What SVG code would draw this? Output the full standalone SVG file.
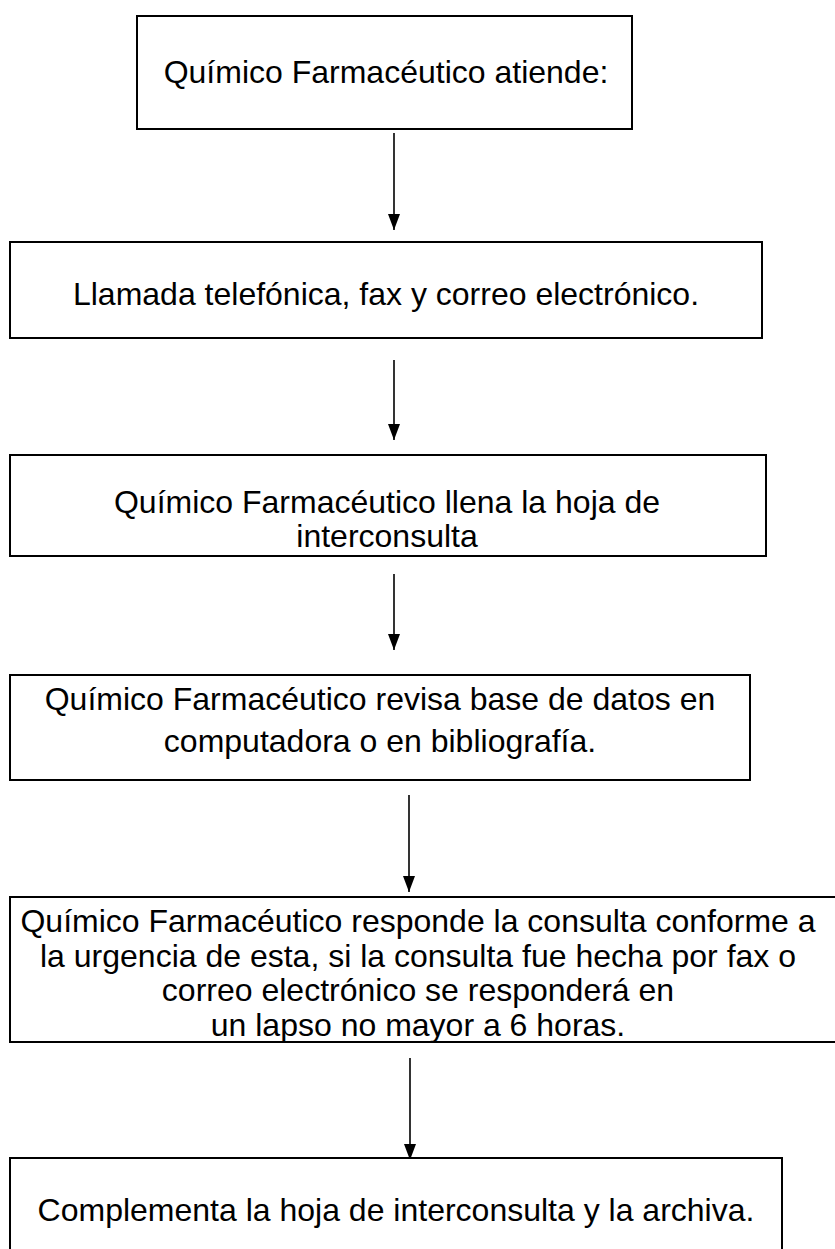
<svg xmlns="http://www.w3.org/2000/svg" width="835" height="1249" viewBox="0 0 835 1249">
<defs>
<marker id="ah" markerWidth="16" markerHeight="12" refX="16" refY="6" orient="auto" markerUnits="userSpaceOnUse" viewBox="0 0 16 12">
<path d="M0,0 L16,6 L0,12 Z" fill="#000"/>
</marker>
<style>
.box{fill:#fff;stroke:#000;stroke-width:2}
.t{font-family:"Liberation Sans",Arial,sans-serif;font-size:32px;fill:#000;text-anchor:middle}
.c{stroke:#000;stroke-width:1.6;fill:none}
</style>
</defs>
<rect width="835" height="1249" fill="#fff"/>
<g id="connectors">
<line class="c" x1="394" y1="133" x2="394" y2="230" marker-end="url(#ah)"/>
<line class="c" x1="394" y1="360" x2="394" y2="440" marker-end="url(#ah)"/>
<line class="c" x1="394" y1="574" x2="394" y2="650" marker-end="url(#ah)"/>
<line class="c" x1="409" y1="795" x2="409" y2="892" marker-end="url(#ah)"/>
<line class="c" x1="410" y1="1058" x2="410" y2="1160" marker-end="url(#ah)"/>
</g>
<g id="n1">
<rect class="box" x="137" y="16" width="495" height="113"/>
<text class="t" x="386" y="83">Químico Farmacéutico atiende:</text>
</g>
<g id="n2">
<rect class="box" x="10" y="242" width="752" height="96"/>
<text class="t" x="386" y="305">Llamada telefónica, fax y correo electrónico.</text>
</g>
<g id="n3">
<rect class="box" x="10" y="455" width="756" height="101"/>
<text class="t" x="387" y="513">Químico Farmacéutico llena la hoja de</text>
<text class="t" x="387" y="547">interconsulta</text>
</g>
<g id="n4">
<rect class="box" x="10" y="675" width="740" height="105"/>
<text class="t" x="380" y="710">Químico Farmacéutico revisa base de datos en</text>
<text class="t" x="380" y="752">computadora o en bibliografía.</text>
</g>
<g id="n5">
<rect class="box" x="10" y="897" width="830" height="145"/>
<text class="t" x="418" y="932">Químico Farmacéutico responde la consulta conforme a</text>
<text class="t" x="418" y="967">la urgencia de esta, si la consulta fue hecha por fax o</text>
<text class="t" x="418" y="1001">correo electrónico se responderá en</text>
<text class="t" x="418" y="1036">un lapso no mayor a 6 horas.</text>
</g>
<g id="n6">
<rect class="box" x="10" y="1158" width="772" height="110"/>
<text class="t" x="396" y="1221">Complementa la hoja de interconsulta y la archiva.</text>
</g>
</svg>
